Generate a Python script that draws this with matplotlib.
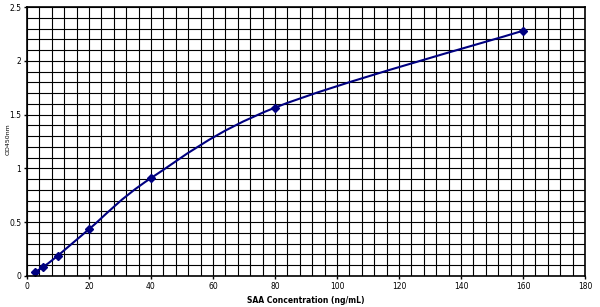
import matplotlib
matplotlib.use("Agg")
import matplotlib.pyplot as plt
from matplotlib.path import Path
from matplotlib.patches import PathPatch
import numpy as np

conc = [2.5, 5, 10, 20, 40, 80, 160]
od = [0.035, 0.08, 0.19, 0.435, 0.91, 1.565, 2.28]
x_ticks = [0, 20, 40, 60, 80, 100, 120, 140, 160, 180]
y_ticks = [0, 0.5, 1, 1.5, 2, 2.5]
y_tick_labels = ["0", "0.5", "1", "1.5", "2", "2.5"]

color = "#000080"

fig = plt.figure(figsize=(6.0, 3.07), dpi=100)
ax = fig.add_axes([0.045, 0.101, 0.930, 0.876])
ax.set_xlim(0, 180)
ax.set_ylim(0, 2.5)

# grid
for gx in np.arange(0, 181, 4):
    ax.axvline(gx, color="black", lw=0.8, zorder=1)
for gy in np.arange(0, 2.51, 0.1):
    ax.axhline(gy, color="black", lw=0.8, zorder=1)

# smoothed line (Excel-style Bezier through the points)
pts = list(zip(conc, od))
verts = [pts[0]]
codes = [Path.MOVETO]
n = len(pts)
for i in range(n - 1):
    p0 = pts[i - 1] if i > 0 else pts[i]
    p1 = pts[i]
    p2 = pts[i + 1]
    p3 = pts[i + 2] if i + 2 < n else pts[i + 1]
    c1 = (p1[0] + (p2[0] - p0[0]) / 6, p1[1] + (p2[1] - p0[1]) / 6)
    c2 = (p2[0] - (p3[0] - p1[0]) / 6, p2[1] - (p3[1] - p1[1]) / 6)
    verts += [c1, c2, p2]
    codes += [Path.CURVE4] * 3
patch = PathPatch(Path(verts, codes), facecolor="none", edgecolor=color, lw=1.5, zorder=3)
ax.add_patch(patch)
ax.plot(conc, od, linestyle="none", marker="D", markersize=4.5, color=color, zorder=4)

ax.set_xticks(x_ticks)
ax.set_yticks(y_ticks)
ax.set_yticklabels(y_tick_labels)
ax.tick_params(labelsize=5.5, length=2, width=1, colors="black", pad=2)
for s in ax.spines.values():
    s.set_linewidth(1.2)
    s.set_color("black")
    s.set_zorder(5)

ax.set_xlabel("SAA Concentration (ng/mL)", fontsize=5.5, fontweight="bold")
ax.xaxis.set_label_coords(0.5, -0.075)
ax.set_ylabel("OD450nm", fontsize=4.5)
ax.yaxis.set_label_coords(-0.03, 0.51)

fig.savefig("out.png", dpi=100)
